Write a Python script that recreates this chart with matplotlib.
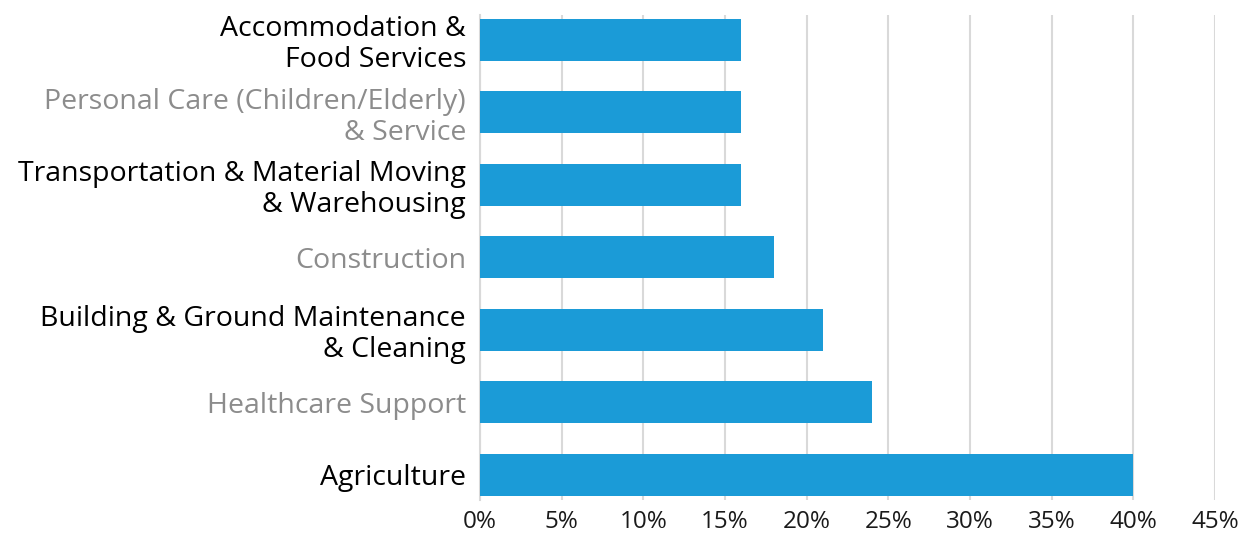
import matplotlib
matplotlib.use("Agg")
import matplotlib.pyplot as plt
from matplotlib.ticker import FuncFormatter

categories = [
    "Agriculture",
    "Healthcare Support",
    "Building & Ground Maintenance\n& Cleaning",
    "Construction",
    "Transportation & Material Moving\n& Warehousing",
    "Personal Care (Children/Elderly)\n& Service",
    "Accommodation &\nFood Services",
]
values = [40, 24, 21, 18, 16, 16, 16]
label_colors = ["#000000", "#8c8c8c", "#000000", "#8c8c8c", "#000000", "#8c8c8c", "#000000"]
xticks = [0, 5, 10, 15, 20, 25, 30, 35, 40, 45]

plt.rcParams['font.family'] = ['Open Sans', 'DejaVu Sans']

fig = plt.figure(figsize=(12.49, 5.33), dpi=100)
ax = fig.add_axes([480/1249, 1-500/533, (1215-480)/1249, (500-15)/533])

ypos = list(range(len(categories)))
ax.barh(ypos, values, height=0.58, color="#1b9bd7", zorder=3)

ax.set_xlim(0, 45)
ax.set_ylim(-0.35, 6.34)
ax.set_xticks(xticks)
ax.xaxis.set_major_formatter(FuncFormatter(lambda v, p: f"{int(v)}%"))
ax.set_yticks(ypos)
ax.set_yticklabels(categories, fontsize=20.5, linespacing=1.15)
for lbl, c in zip(ax.get_yticklabels(), label_colors):
    lbl.set_color(c)
ax.tick_params(axis='x', labelsize=17.5, length=0, pad=7, labelcolor="#1a1a1a")
ax.tick_params(axis='y', length=0, pad=10)

ax.grid(axis='x', color="#d9d9d9", linewidth=1.5, zorder=0)
for s in ["top", "right", "bottom"]:
    ax.spines[s].set_visible(False)
ax.spines["left"].set_color("#d9d9d9")
ax.spines["left"].set_linewidth(1.5)

fig.savefig("out.png", dpi=100)
